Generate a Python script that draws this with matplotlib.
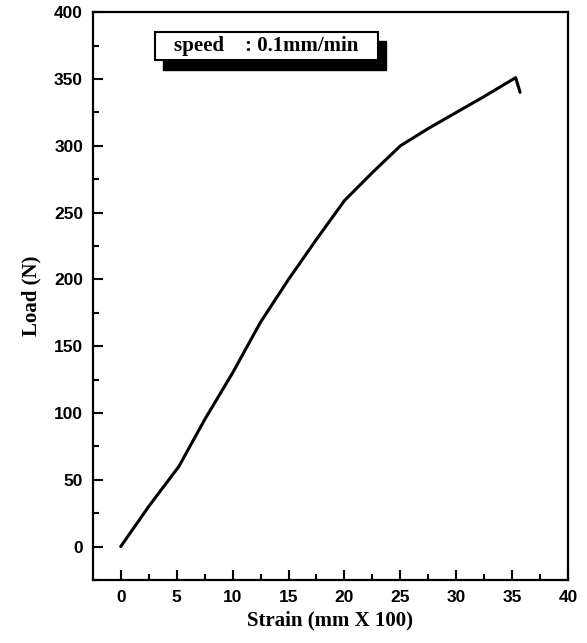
import matplotlib
matplotlib.use("Agg")
import matplotlib.pyplot as plt
from matplotlib.patches import Rectangle
from matplotlib.ticker import MultipleLocator

# load-strain curve
strain = [0, 2.5, 5.2, 7.5, 10, 12.5, 15, 17.5, 20, 22.5, 25, 27.5, 30, 32.5, 35.3, 35.7]
load = [0, 30, 60, 95, 130, 168, 200, 230, 259, 280, 300, 313, 325, 337, 351, 340]

x_ticks = [0, 5, 10, 15, 20, 25, 30, 35, 40]
y_ticks = [0, 50, 100, 150, 200, 250, 300, 350, 400]

serif = "Liberation Serif"
sans = "Liberation Sans"

fig = plt.figure(figsize=(5.87, 6.43), dpi=100)
ax = fig.add_axes([0.158, 0.098, 0.81, 0.883])

ax.plot(strain, load, color="black", lw=2.2, solid_capstyle="round")

ax.set_xlim(-2.5, 40)
ax.set_ylim(-25, 400)
ax.set_xticks(x_ticks)
ax.set_yticks(y_ticks)
ax.xaxis.set_minor_locator(MultipleLocator(2.5))
ax.yaxis.set_minor_locator(MultipleLocator(25))
ax.tick_params(which="both", direction="in", top=False, right=False, width=1.5)
ax.tick_params(which="major", length=7, labelsize=12.5, pad=7)
ax.tick_params(which="minor", length=4)
for lab in ax.get_xticklabels() + ax.get_yticklabels():
    lab.set_fontfamily(sans)
    lab.set_fontweight("bold")
for s in ax.spines.values():
    s.set_linewidth(1.6)

ax.set_xlabel("Strain (mm X 100)", fontfamily=serif, fontweight="bold", fontsize=15, labelpad=4)
ax.set_ylabel("Load (N)", fontfamily=serif, fontweight="bold", fontsize=15, labelpad=9)

# legend-like box with a drop shadow
bx, by, bw, bh = 0.13, 0.915, 0.47, 0.05
ax.add_patch(Rectangle((bx + 0.017, by - 0.016), bw, bh, transform=ax.transAxes,
                       facecolor="black", edgecolor="black", zorder=4))
ax.add_patch(Rectangle((bx, by), bw, bh, transform=ax.transAxes,
                       facecolor="white", edgecolor="black", lw=1.5, zorder=5))
ax.text(bx + bw / 2, by + bh / 2, "speed    : 0.1mm/min", transform=ax.transAxes,
        ha="center", va="center", fontfamily=serif, fontweight="bold", fontsize=15, zorder=6)

fig.savefig("out.png", dpi=100)
